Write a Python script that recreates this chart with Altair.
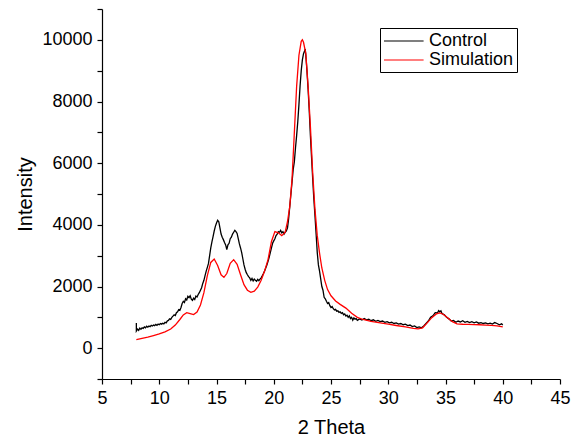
import altair as alt
import pandas as pd

# Control (measured) curve
control_x = [8.0, 8.0, 8.1, 8.2, 8.3, 8.4, 8.5, 8.6, 8.7, 8.8, 8.9, 9.0, 9.1, 9.2, 9.3, 9.4, 9.5, 9.6, 9.7, 9.8, 9.9,
             10.0, 10.1, 10.2, 10.3, 10.4, 10.5, 10.6, 10.7, 10.8, 10.9, 11.0, 11.1, 11.2, 11.3, 11.4, 11.5, 11.6, 11.7,
             11.8, 11.9, 12.0, 12.1, 12.2, 12.3, 12.4, 12.5, 12.6, 12.7, 12.8, 12.9, 13.0, 13.1, 13.2, 13.3, 13.4, 13.5,
             13.6, 13.7, 13.8, 13.9, 14.0, 14.1, 14.2, 14.3, 14.4, 14.5, 14.6, 14.7, 14.8, 14.9, 15.0, 15.1, 15.2, 15.3,
             15.4, 15.5, 15.6, 15.7, 15.8, 15.9, 16.0, 16.1, 16.2, 16.3, 16.4, 16.5, 16.6, 16.7, 16.8, 16.9, 17.0, 17.1,
             17.2, 17.3, 17.4, 17.5, 17.6, 17.7, 17.8, 17.9, 18.0, 18.1, 18.2, 18.3, 18.4, 18.5, 18.6, 18.7, 18.8, 18.9,
             19.0, 19.1, 19.2, 19.3, 19.4, 19.5, 19.6, 19.7, 19.8, 19.9, 20.0, 20.1, 20.2, 20.3, 20.4, 20.5, 20.6, 20.7,
             20.8, 20.9, 21.0, 21.1, 21.2, 21.3, 21.4, 21.5, 21.6, 21.7, 21.8, 21.9, 22.0, 22.1, 22.2, 22.3, 22.4, 22.5,
             22.6, 22.7, 22.75, 22.8, 22.9, 23.0, 23.1, 23.2, 23.3, 23.4, 23.5, 23.6, 23.7, 23.8, 23.9, 24.0, 24.1, 24.2,
             24.3, 24.4, 24.5, 24.6, 24.7, 24.8, 24.9, 25.0, 25.1, 25.2, 25.3, 25.4, 25.5, 25.6, 25.7, 25.8, 25.9, 26.0,
             26.1, 26.2, 26.3, 26.4, 26.5, 26.6, 26.7, 26.8, 26.9, 27.0, 27.1, 27.2, 27.3, 27.5, 27.7, 27.9, 28.1, 28.3,
             28.5, 28.7, 28.9, 29.1, 29.3, 29.5, 29.7, 29.9, 30.1, 30.3, 30.5, 30.7, 30.9, 31.1, 31.3, 31.5, 31.7, 31.9,
             32.1, 32.3, 32.5, 32.7, 32.9, 33.1, 33.3, 33.5, 33.7, 33.9, 34.1, 34.3, 34.4, 34.5, 34.6, 34.7, 34.9, 35.1,
             35.3, 35.5, 35.7, 35.9, 36.1, 36.3, 36.5, 36.7, 36.9, 37.1, 37.3, 37.5, 37.7, 37.9, 38.1, 38.3, 38.5, 38.7,
             38.9, 39.1, 39.3, 39.5, 39.7, 39.9, 40.0]
control_y = [820, 560, 620, 580, 650, 610, 660, 640, 690, 660, 710, 680, 720, 700, 740, 720, 750, 730, 770, 740, 780,
             760, 800, 780, 810, 790, 840, 820, 880, 900, 950, 930, 1000, 1040, 1080, 1060, 1150, 1180, 1250,
             1230, 1320, 1450, 1520, 1480, 1600, 1560, 1680, 1640, 1700, 1590, 1550, 1620, 1580, 1690, 1660, 1740, 1800,
             1880, 1960, 2100, 2200, 2350, 2500, 2620, 2750, 3000, 3250, 3450, 3620, 3800, 3950, 4060, 4150, 4100, 3900,
             3700, 3600, 3520, 3430, 3350, 3200, 3350, 3400, 3550, 3600, 3700, 3760, 3820, 3780, 3720, 3550, 3380, 3250,
             3100, 2900, 2700, 2560, 2450, 2380, 2320, 2280, 2200, 2260, 2180, 2240, 2200, 2170, 2230, 2190, 2240, 2280,
             2350, 2420, 2500, 2600, 2700, 2820, 2950, 3100, 3250, 3400, 3480, 3550, 3650, 3700, 3780, 3760, 3820, 3740,
             3780, 3700, 3760, 3800, 3900, 4200, 4600, 5000, 5400, 5800, 6050, 6500, 6900, 7350, 7900, 8500, 9000, 9350,
             9550, 9650, 9700, 9500, 9000, 8400, 7700, 6900, 6200, 5500, 4850, 4300, 3700, 3100, 2700, 2500, 2250, 2000,
             1880, 1650, 1600, 1520, 1450, 1480, 1380, 1320, 1350, 1280, 1240, 1260, 1200, 1210, 1160, 1180, 1130, 1150,
             1080, 1110, 1040, 1070, 1000, 1050, 960, 1000, 910, 980, 940, 960, 900, 950, 910, 960, 920, 940,
             890, 920, 870, 900, 860, 880, 840, 860, 820, 840, 800, 820, 780, 800, 760, 780, 730, 750,
             700, 720, 670, 690, 660, 720, 800, 880, 1000, 1050, 1150, 1140, 1220, 1180, 1210, 1120, 1080, 1000,
             950, 880, 900, 840, 880, 850, 890, 840, 870, 830, 860, 820, 850, 810, 830, 800, 820, 790,
             810, 780, 830, 800, 760, 790, 750]

# Simulation curve
sim_x = [8.0, 8.5, 9.0, 9.5, 10.0, 10.5, 11.0, 11.4, 11.8, 12.1, 12.4, 12.7, 13.0, 13.3, 13.6, 13.9, 14.2, 14.5,
         14.8, 15.1, 15.4, 15.65, 15.9, 16.2, 16.5, 16.8, 17.1, 17.4, 17.7, 18.0, 18.3, 18.6, 18.9, 19.2, 19.5,
         19.8, 20.1, 20.4, 20.7, 21.0, 21.2, 21.4, 21.6, 21.8, 22.0, 22.2, 22.4, 22.5, 22.6, 22.8, 23.0, 23.2,
         23.4, 23.6, 23.8, 24.0, 24.2, 24.45, 24.7, 25.0, 25.4, 25.8, 26.3, 26.8, 27.3, 27.8, 28.5, 29.3, 30.0,
         30.7, 31.5, 32.2, 32.6, 33.0, 33.4, 33.8, 34.2, 34.5, 34.8, 35.2, 35.6, 36.0, 36.5, 37.0, 37.5, 38.0,
         38.5, 39.0, 39.5, 40.0]
sim_y = [280, 320, 360, 410, 460, 530, 620, 750, 930, 1080, 1150, 1120, 1090, 1170, 1400, 1800, 2350, 2780,
         2890, 2680, 2380, 2295, 2420, 2750, 2870, 2720, 2380, 2060, 1880, 1810, 1850, 1980, 2200, 2500, 2870,
         3460, 3780, 3740, 3650, 3760, 4100, 4600, 5500, 7000, 8500, 9500, 9950, 10000, 9920, 9550, 8500, 7200,
         5700, 4500, 3650, 3080, 2600, 2200, 1900, 1700, 1530, 1420, 1300, 1130, 1000, 930, 870, 820, 780,
         735, 690, 640, 625, 660, 820, 990, 1110, 1145, 1100, 980, 860, 790, 775, 770, 765, 760,
         750, 740, 720, 690]

series_names = ["Control", "Simulation"]
series_colors = ["#000000", "#ff0000"]

x_ticks = [5 + 2.5 * i for i in range(17)]
y_ticks = [-1000 + 1000 * i for i in range(13)]

df = pd.concat([
    pd.DataFrame({"x": control_x, "y": control_y, "series": "Control", "idx": range(len(control_x))}),
    pd.DataFrame({"x": sim_x, "y": sim_y, "series": "Simulation", "idx": range(len(sim_x))}),
])

font = "Liberation Sans"

chart = alt.Chart(df).mark_line(strokeWidth=1.3, clip=True).encode(
    x=alt.X("x:Q", scale=alt.Scale(domain=[5, 45], nice=False, zero=False),
            axis=alt.Axis(title="2 Theta", values=x_ticks,
                          labelExpr="datum.value % 5 == 0 ? format(datum.value, 'd') : ''",
                          labelFlush=False, labelOverlap=False)),
    y=alt.Y("y:Q", scale=alt.Scale(domain=[-1000, 11000], nice=False, zero=False),
            axis=alt.Axis(title="Intensity", values=y_ticks,
                          labelExpr="(datum.value % 2000 == 0 && datum.value >= 0) ? format(datum.value, 'd') : ''",
                          labelFlush=False, labelOverlap=False)),
    color=alt.Color("series:N", scale=alt.Scale(domain=series_names, range=series_colors),
                    legend=alt.Legend(title=None, orient="none", legendX=278, legendY=19,
                                      symbolType="M-1,0H3.4", symbolSize=324, symbolStrokeWidth=1.2,
                                      labelFontSize=18, labelFont=font, labelColor="#000",
                                      strokeColor="#000", padding=3, rowPadding=0,
                                      labelOffset=26, cornerRadius=0, fillColor="#fff")),
    order="idx:Q",
    detail="series:N",
).properties(
    width=458, height=370,
    autosize=alt.AutoSizeParams(type="none"),
    padding={"left": 102, "top": 9, "right": 20, "bottom": 64},
).configure_view(stroke=None).configure_axis(
    grid=False, domainColor="#000", domainWidth=1.2, tickColor="#000", tickWidth=1.2, tickSize=5,
    labelFont=font, labelFontSize=18, labelColor="#000", labelPadding=5,
    titleFont=font, titleFontSize=20, titleFontWeight="normal", titleColor="#000",
).configure_axisX(titlePadding=10).configure_axisY(titlePadding=6)

chart.save("out.html", embed_options={"renderer": "svg", "actions": False})
